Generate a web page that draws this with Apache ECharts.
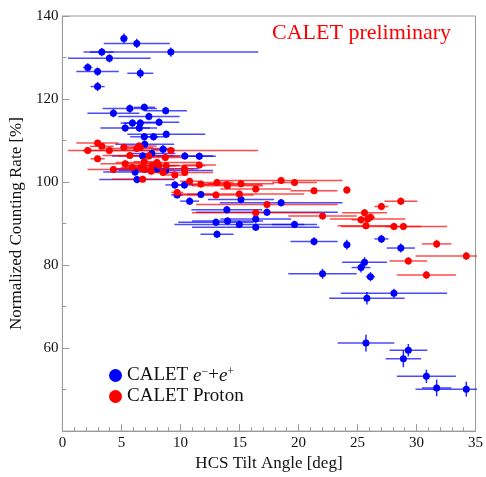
<!DOCTYPE html>
<html>
<head>
<meta charset="utf-8">
<script src="https://cdn.jsdelivr.net/npm/echarts@6/dist/echarts.min.js"></script>
<style>html,body{margin:0;padding:0;background:#fff}#c{width:486px;height:477px}</style>
</head>
<body>
<div id="c"></div>
<script>
// CALET e-+e+ : HCS tilt angle [deg], error, normalized rate [%], error
const electronAngle    = [5.21,6.30,3.34,9.19,3.98,2.15,2.98,6.60,2.98,5.71,6.94,8.75,4.32,7.33,5.93,6.60,8.19,5.32,6.52,8.80,6.94,7.72,6.97,7.58,8.53,6.80,10.37,11.60,8.02,8.75,6.16,6.32,9.53,10.34,9.72,11.73,10.78,15.13,18.53,13.93,17.33,13.01,13.99,14.99,16.38,16.38,19.67,13.10,21.32,24.10,27.03,28.67,25.60,25.30,26.10,22.04,28.09,25.80,25.72,29.31,28.89,30.84,31.71,34.22];
const electronAngleErr = [0.3,2.8,1.0,7.4,3.5,0.4,1.8,1.1,0.6,2.3,0.9,1.8,2.2,2.6,1.0,1.4,1.7,2.1,1.5,3.3,1.2,1.0,2.5,2.0,1.0,2.6,2.4,1.4,3.5,4.0,2.7,3.2,0.8,0.8,0.5,1.2,0.8,2.8,5.2,3.0,6.0,3.2,3.0,5.5,3.0,5.4,1.9,1.4,2.0,0.3,0.6,1.2,1.9,0.8,0.4,2.9,4.5,3.2,2.4,1.6,1.5,2.5,1.25,4.3];
const electronRate     = [134.6,133.4,131.3,131.3,129.8,127.6,126.6,126.2,123.0,117.7,118.0,117.2,116.6,115.8,114.2,114.2,114.4,113.0,113.0,111.5,110.9,110.9,109.1,106.9,107.9,106.3,106.3,106.2,103.2,102.8,102.4,100.6,99.3,99.3,96.9,97.0,95.4,95.8,95.0,93.3,92.7,90.3,90.6,89.8,91.1,89.1,89.8,87.4,85.7,84.9,86.3,84.1,80.7,79.4,77.2,77.9,73.2,72.0,61.2,59.5,57.4,53.2,50.4,50.1];
const electronRateErr  = [1.2,1.1,1.0,1.1,1.0,1.0,1.0,1.2,1.1,1.0,0.9,0.9,1.0,0.9,0.9,0.9,0.9,0.9,0.9,0.9,0.9,0.9,0.9,0.9,1.0,0.9,0.9,0.9,0.9,0.9,0.9,0.9,0.9,0.9,0.8,0.8,0.9,0.9,0.9,0.9,0.9,0.9,0.9,0.9,0.9,0.9,0.9,0.9,1.0,1.2,1.0,1.1,1.2,1.2,1.1,1.2,1.1,1.5,2.0,1.5,2.0,1.6,2.0,1.8];

// CALET Proton
const protonAngle    = [2.15,2.98,3.34,3.98,2.98,4.32,5.21,5.32,5.71,5.93,6.30,6.49,6.60,6.63,6.80,6.94,6.97,7.33,7.52,7.58,8.02,8.19,8.53,8.72,8.80,9.19,9.53,9.72,10.34,10.37,10.78,11.60,11.73,13.01,13.10,13.93,13.99,14.99,15.13,16.38,16.38,17.33,18.53,19.67,21.32,22.04,24.10,25.60,25.30,25.72,25.86,26.10,27.03,28.67,28.09,28.89,29.31,30.84,31.71,34.22];
const protonAngleErr = [0.4,1.8,1.0,3.5,0.6,2.2,0.3,2.1,2.3,1.0,2.8,1.5,1.1,1.4,2.6,0.9,2.5,2.6,1.0,2.0,3.5,1.7,1.0,1.8,3.3,7.4,0.8,0.5,0.8,2.4,0.8,1.4,1.2,3.2,1.4,3.0,3.0,5.5,2.8,3.0,5.4,6.0,5.2,1.9,2.0,2.9,0.3,1.9,0.8,2.4,3.2,0.4,0.6,1.4,4.5,1.5,1.6,2.5,1.25,4.3];
const protonRate     = [107.6,109.4,108.6,107.6,105.6,103.0,108.4,104.4,106.4,103.5,108.1,108.7,108.3,103.5,100.7,104.9,103.0,106.3,102.6,103.9,104.7,104.0,102.3,105.9,103.9,107.6,101.7,97.5,103.2,102.3,100.2,104.1,99.5,96.9,99.9,99.4,99.1,97.1,99.6,98.3,92.6,94.6,100.4,99.9,97.9,91.8,98.1,92.6,90.9,89.5,91.1,91.5,94.1,95.4,89.3,89.3,81.0,77.6,85.1,82.2];
const protonRateErr  = [0.7,0.7,0.7,0.7,0.8,0.8,0.8,0.8,0.8,0.8,0.8,0.8,0.8,0.8,0.8,0.8,0.8,0.8,0.8,0.8,0.8,0.8,0.8,0.8,0.8,0.8,0.8,0.8,0.8,0.8,0.8,0.8,0.8,0.8,0.8,0.8,0.8,0.8,0.8,0.8,0.8,0.8,0.8,0.8,0.8,0.8,0.9,0.9,0.9,0.9,0.9,0.9,0.9,0.9,0.9,0.9,0.9,1.0,1.0,1.0];

const xTicks = [0,5,10,15,20,25,30,35];
const yTicks = [60,80,100,120,140];

const SERIF = "'Liberation Serif','DejaVu Serif',serif";
const BLUE = '#0000ff', RED = '#ff0000';

function build(a, ae, r, re) { return a.map((x, i) => [x, r[i], ae[i], re[i]]); }
const eData = build(electronAngle, electronAngleErr, electronRate, electronRateErr);
const pData = build(protonAngle, protonAngleErr, protonRate, protonRateErr);

function errRenderer(color) {
  return function (params, api) {
    const x = api.value(0), y = api.value(1), ex = api.value(2), ey = api.value(3);
    const l = api.coord([x - ex, y]), r = api.coord([x + ex, y]);
    const t = api.coord([x, y + ey]), b = api.coord([x, y - ey]);
    const st = { stroke: color, lineWidth: 1.5, opacity: 0.7 };
    return { type: 'group', children: [
      { type: 'line', shape: { x1: l[0], y1: l[1], x2: r[0], y2: r[1] }, style: st },
      { type: 'line', shape: { x1: t[0], y1: t[1], x2: b[0], y2: b[1] }, style: { stroke: color, lineWidth: 1.5, opacity: 0.85 } }
    ]};
  };
}

const chart = echarts.init(document.getElementById('c'), null, { renderer: 'canvas' });
chart.setOption({
  animation: false,
  backgroundColor: '#fff',
  grid: { left: 62, right: 5, top: 16, bottom: 44, show: true, borderColor: '#9a9a9a', borderWidth: 1, backgroundColor: 'transparent' },
  xAxis: {
    type: 'value', min: 0, max: 35, interval: 5,
    name: 'HCS Tilt Angle [deg]', nameLocation: 'middle', nameGap: 22,
    nameTextStyle: { fontFamily: SERIF, fontSize: 17, color: '#111' },
    axisLine: { show: true, lineStyle: { color: '#9a9a9a', width: 1 } },
    axisTick: { show: true, inside: true, length: 7, lineStyle: { color: '#9a9a9a' } },
    minorTick: { show: true, splitNumber: 5, length: 4, lineStyle: { color: '#9a9a9a' } },
    splitLine: { show: false },
    axisLabel: { fontFamily: SERIF, fontSize: 15, color: '#111', margin: 4,
      formatter: v => xTicks.includes(v) ? String(v) : '' }
  },
  yAxis: {
    type: 'value', min: 40, max: 140, interval: 20,
    name: 'Normalized Counting Rate [%]', nameLocation: 'middle', nameGap: 33, nameRotate: 90,
    nameTextStyle: { fontFamily: SERIF, fontSize: 17, color: '#111' },
    axisLine: { show: true, lineStyle: { color: '#9a9a9a', width: 1 } },
    axisTick: { show: true, inside: true, length: 7, lineStyle: { color: '#9a9a9a' } },
    minorTick: { show: true, splitNumber: 2, length: 4, lineStyle: { color: '#9a9a9a' } },
    splitLine: { show: false },
    axisLabel: { fontFamily: SERIF, fontSize: 15, color: '#111', margin: 4,
      formatter: v => yTicks.includes(v) ? String(v) : '' }
  },
  legend: {
    orient: 'vertical', left: 104, top: 361, itemGap: 2,
    icon: 'circle', itemWidth: 13, itemHeight: 13,
    data: ['CALET e-+e+', 'CALET Proton'],
    textStyle: { fontFamily: SERIF, fontSize: 19, color: '#111', lineHeight: 19,
      rich: {
        n: { fontFamily: SERIF, fontSize: 19, lineHeight: 19, color: '#111' },
        i: { fontFamily: SERIF, fontSize: 19, lineHeight: 19, fontStyle: 'italic', color: '#111' },
        s: { fontFamily: SERIF, fontSize: 12, lineHeight: 12, verticalAlign: 'top', color: '#111' }
      } },
    formatter: name => name === 'CALET e-+e+' ? '{n|CALET }{i|e}{s|\u2212}{n|+}{i|e}{s|+}' : '{n|CALET Proton}'
  },
  graphic: [
    { type: 'text', left: 272, top: 22, style: { text: 'CALET preliminary', fontFamily: SERIF, fontSize: 22, fill: RED } }
  ],
  series: [
    { type: 'custom', name: 'eErr', data: eData, renderItem: errRenderer(BLUE), encode: { x: 0, y: 1 }, clip: true, z: 2, silent: true },
    { type: 'custom', name: 'pErr', data: pData, renderItem: errRenderer(RED), encode: { x: 0, y: 1 }, clip: true, z: 2, silent: true },
    { type: 'scatter', name: 'CALET e-+e+', data: eData.map(d => [d[0], d[1]]), symbol: 'circle', symbolSize: 7, itemStyle: { color: BLUE, opacity: 1 }, z: 3 },
    { type: 'scatter', name: 'CALET Proton', data: pData.map(d => [d[0], d[1]]), symbol: 'circle', symbolSize: 7, itemStyle: { color: RED, opacity: 1 }, z: 4 }
  ]
});
</script>
</body>
</html>
